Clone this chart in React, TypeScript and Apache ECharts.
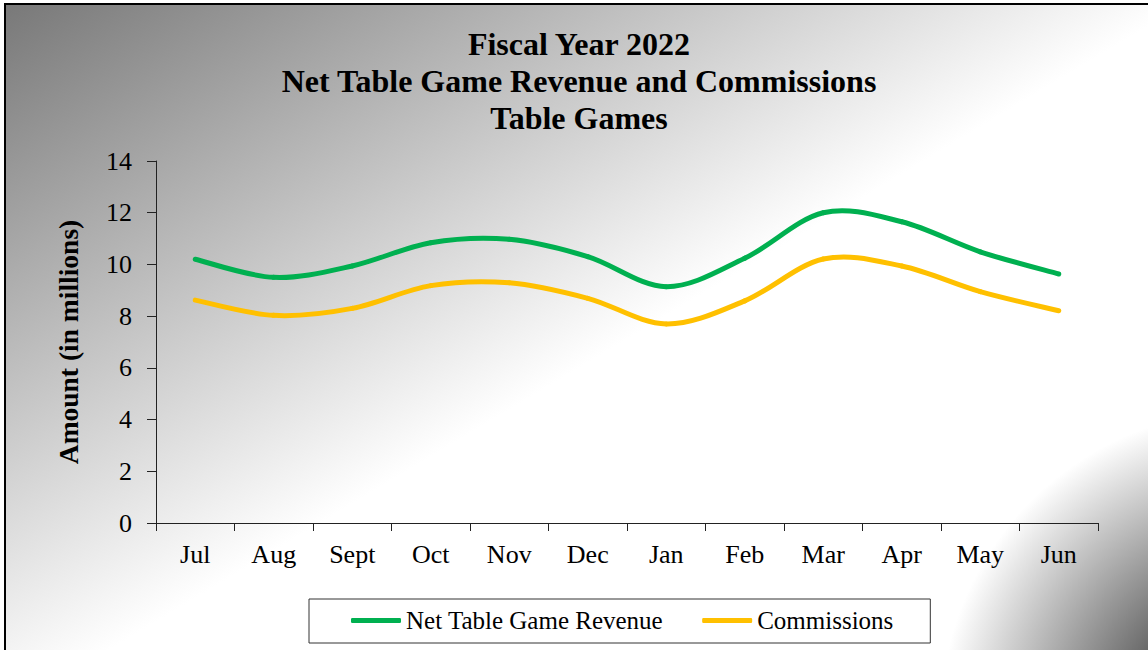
import React, { useEffect, useRef } from "react";
import * as echarts from "echarts";

const months = ["Jul", "Aug", "Sept", "Oct", "Nov", "Dec", "Jan", "Feb", "Mar", "Apr", "May", "Jun"];
const netRevenue = [10.2, 9.5, 9.94, 10.84, 10.97, 10.3, 9.14, 10.24, 12.0, 11.65, 10.49, 9.63];
const commissions = [8.62, 8.03, 8.3, 9.18, 9.29, 8.69, 7.7, 8.59, 10.21, 9.94, 8.95, 8.21];
const seriesNames = ["Net Table Game Revenue", "Commissions"];
const seriesColors = ["#00B050", "#FFC000"];
const titleLines = ["Fiscal Year 2022", "Net Table Game Revenue and Commissions", "Table Games"];
const yAxisName = "Amount (in millions)";

const FONT = "'Liberation Serif', 'Times New Roman', Times, serif";

function smoothSeries(name: string, values: number[], color: string) {
  return {
    name,
    type: "custom",
    data: values.map((v, i) => [i, v]),
    encode: { x: 0, y: 1 },
    itemStyle: { color },
    renderItem: (params: any, api: any) => {
      const i = params.dataIndex;
      const n = values.length;
      if (i >= n - 1) return null;
      const c = (j: number) => Math.max(0, Math.min(n - 1, j));
      const P = (j: number) => api.coord([c(j), values[c(j)]]);
      const p0 = P(i - 1);
      const p1 = P(i);
      const p2 = P(i + 1);
      const p3 = P(i + 2);
      const t = 1 / 6;
      return {
        type: "bezierCurve",
        shape: {
          x1: p1[0],
          y1: p1[1],
          x2: p2[0],
          y2: p2[1],
          cpx1: p1[0] + (p2[0] - p0[0]) * t,
          cpy1: p1[1] + (p2[1] - p0[1]) * t,
          cpx2: p2[0] - (p3[0] - p1[0]) * t,
          cpy2: p2[1] - (p3[1] - p1[1]) * t,
        },
        style: { stroke: color, lineWidth: 5, fill: "none", lineCap: "round" },
      };
    },
  };
}

export default function App() {
  const ref = useRef<HTMLDivElement>(null);
  useEffect(() => {
    if (!ref.current) return;
    const chart = echarts.init(ref.current, undefined, { renderer: "svg" });
    const titleY = [44, 81, 118];
    const option: any = {
      animation: false,
      graphic: [
        {
          type: "rect",
          silent: true,
          z: -10,
          shape: { x: 5, y: 4, width: 1200, height: 700 },
          style: {
            fill: new echarts.graphic.LinearGradient(
              0, 0, 600, 1000,
              [
                { offset: 0, color: "#777777" },
                { offset: 0.526, color: "#ffffff" },
                { offset: 1, color: "#ffffff" },
              ],
              true
            ),
            stroke: "#000000",
            lineWidth: 2,
          },
        },
        {
          type: "circle",
          silent: true,
          z: -9,
          shape: { cx: 1250, cy: 720, r: 310 },
          style: {
            fill: new echarts.graphic.RadialGradient(0.5, 0.5, 0.5, [
              { offset: 0, color: "#505050" },
              { offset: 0.4, color: "#6a6a6a" },
              { offset: 1, color: "#ffffff" },
            ]),
          },
        },
        ...titleLines.map((t, i) => ({
          type: "text",
          silent: true,
          z: 10,
          x: 579,
          y: titleY[i],
          style: {
            text: t,
            fill: "#000",
            fontSize: 32,
            fontWeight: "bold",
            fontFamily: FONT,
            textAlign: "center",
            textVerticalAlign: "middle",
            align: "center",
            verticalAlign: "middle",
          },
        })),
      ],
      grid: { left: 156, right: 50, top: 161, bottom: 127, containLabel: false },
      legend: {
        data: seriesNames,
        left: 309,
        top: 599,
        icon: "roundRect",
        itemWidth: 50,
        itemHeight: 5,
        itemGap: 39,
        padding: [9, 37, 10, 42],
        backgroundColor: "#ffffff",
        borderColor: "#333333",
        borderWidth: 1,
        borderRadius: 0,
        textStyle: { fontFamily: FONT, fontSize: 25, color: "#000", lineHeight: 25 },
      },
      xAxis: {
        type: "category",
        data: months,
        boundaryGap: true,
        axisLine: { show: true, lineStyle: { color: "#222", width: 1 } },
        axisTick: { show: true, length: 8, alignWithLabel: false, lineStyle: { color: "#222" } },
        axisLabel: { fontFamily: FONT, fontSize: 26, color: "#000", margin: 18, interval: 0 },
        splitLine: { show: false },
      },
      yAxis: {
        type: "value",
        min: 0,
        max: 14,
        interval: 2,
        name: yAxisName,
        nameLocation: "middle",
        nameGap: 74,
        nameRotate: 90,
        nameTextStyle: { fontFamily: FONT, fontSize: 27.5, fontWeight: "bold", color: "#000" },
        axisLine: { show: true, lineStyle: { color: "#222", width: 1 } },
        axisTick: { show: true, length: 9, lineStyle: { color: "#222" } },
        axisLabel: { fontFamily: FONT, fontSize: 26, color: "#000", margin: 24 },
        splitLine: { show: false },
      },
      series: [
        smoothSeries(seriesNames[0], netRevenue, seriesColors[0]),
        smoothSeries(seriesNames[1], commissions, seriesColors[1]),
      ],
    };
    chart.setOption(option);
    return () => chart.dispose();
  }, []);
  return (
    <div
      ref={ref}
      style={{ position: "absolute", left: 0, top: 0, width: 1148, height: 650 }}
    />
  );
}
